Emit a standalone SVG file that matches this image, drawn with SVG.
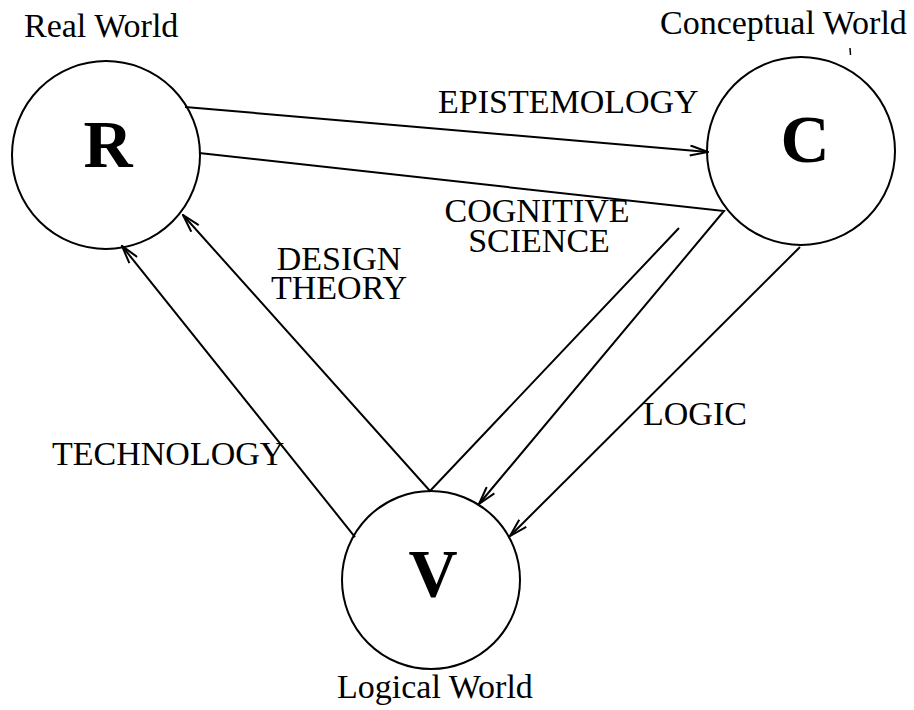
<svg xmlns="http://www.w3.org/2000/svg" width="914" height="710" viewBox="0 0 914 710">
  <style>
    .node { fill: none; stroke: #000; stroke-width: 2; }
    .letter { font-family: "Liberation Serif", "Times New Roman", serif; font-weight: bold; font-size: 68px; fill: #000; text-anchor: middle; }
    .title { font-family: "Liberation Serif", "Times New Roman", serif; font-size: 34px; fill: #000; }
    .label { font-family: "Liberation Serif", "Times New Roman", serif; font-size: 34px; fill: #000; }
    .edge { fill: none; stroke: #000; stroke-width: 2; stroke-linejoin: miter; }
  </style>
  <defs>
    <marker id="arrow" viewBox="0 0 20 12" refX="19" refY="6" markerWidth="20" markerHeight="12" markerUnits="userSpaceOnUse" orient="auto">
      <path d="M1,1 L19,6 L1,11" fill="none" stroke="#000" stroke-width="2"/>
    </marker>
  </defs>
  <rect width="914" height="710" fill="#fff"/>

  <g id="node-R">
    <circle class="node" cx="106" cy="155" r="94"/>
    <text class="letter" x="108" y="167">R</text>
    <text class="title" x="24" y="37">Real World</text>
  </g>

  <g id="node-C">
    <circle class="node" cx="801" cy="151" r="94"/>
    <text class="letter" x="805" y="162">C</text>
    <text class="title" x="660" y="34">Conceptual World</text>
  </g>

  <g id="node-V">
    <circle class="node" cx="431" cy="580" r="89"/>
    <text class="letter" x="433" y="596">V</text>
    <text class="title" x="337" y="698">Logical World</text>
  </g>

  <g id="connectors">
    <g id="edge-epistemology">
      <line class="edge" x1="185" y1="107" x2="708" y2="152" marker-end="url(#arrow)"/>
      <text class="label" x="438" y="113">EPISTEMOLOGY</text>
    </g>
    <g id="edge-cognitive-science">
      <polyline class="edge" points="199,153 724,211 479,504" marker-end="url(#arrow)"/>
      <text class="label" x="537" y="222" text-anchor="middle">COGNITIVE</text>
      <text class="label" x="539" y="252" text-anchor="middle">SCIENCE</text>
    </g>
    <g id="edge-design-theory">
      <polyline class="edge" points="679,228 430,491 183,215" marker-end="url(#arrow)"/>
      <text class="label" x="339" y="270" text-anchor="middle">DESIGN</text>
      <text class="label" x="339" y="299" text-anchor="middle">THEORY</text>
    </g>
    <g id="edge-logic">
      <line class="edge" x1="800" y1="247" x2="510" y2="536" marker-end="url(#arrow)"/>
      <text class="label" x="643" y="425">LOGIC</text>
    </g>
    <g id="edge-technology">
      <line class="edge" x1="355" y1="537" x2="122" y2="246" marker-end="url(#arrow)"/>
      <text class="label" x="52" y="465">TECHNOLOGY</text>
    </g>
  </g>

  <line x1="850" y1="48" x2="850.5" y2="55" stroke="#000" stroke-width="1.5"/>
</svg>
